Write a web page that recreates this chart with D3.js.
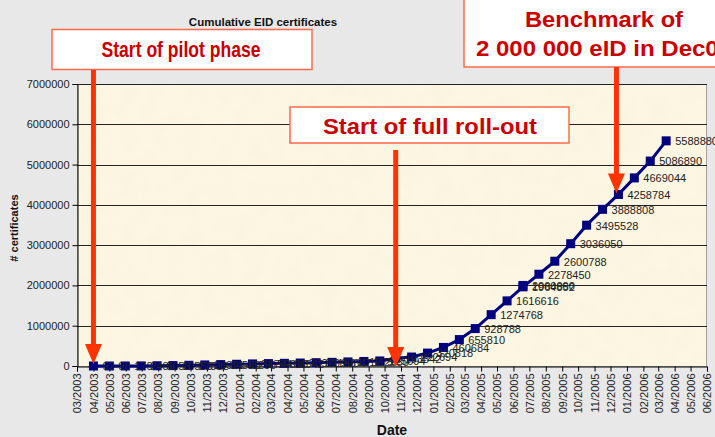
<!DOCTYPE html>
<html>
<head>
<meta charset="utf-8">
<title>Cumulative EID certificates</title>
<script src="https://d3js.org/d3.v7.min.js"></script>
<style>
  body { margin: 0; background: #e8e8e8; }
  text { font-family: Arial, "Liberation Sans", sans-serif; }
</style>
</head>
<body>
<svg id="chart" width="715" height="437"></svg>
<script>
// data: one point every 30 days, cumulative number of certificates
var dates = ["2003-04-01","2003-05-01","2003-05-31","2003-06-30","2003-07-30","2003-08-29",
  "2003-09-28","2003-10-28","2003-11-27","2003-12-27","2004-01-26","2004-02-25","2004-03-26",
  "2004-04-25","2004-05-25","2004-06-24","2004-07-24","2004-08-23","2004-09-22","2004-10-22",
  "2004-11-21","2004-12-21","2005-01-20","2005-02-19","2005-03-21","2005-04-20","2005-05-20",
  "2005-06-19","2005-07-19","2005-08-18","2005-09-17","2005-10-17","2005-11-16","2005-12-16",
  "2006-01-15","2006-02-14","2006-03-16"]
var certificates = [92, 98, 170, 2486, 6053, 10553, 17512, 26021, 34580, 43296, 51744, 59810,
  66542, 73920, 82156, 90347, 101275, 112680, 125094, 193542, 222694, 320818, 460684, 655810,
  928788, 1274768, 1616616, 1964852, 2278450, 2600788, 3036050, 3495528, 3888808, 4258784,
  4669044, 5086890, 5588880]
var benchDates = ["2005-06-19"]
var benchValues = [2000000]
var yTicks = [0, 1000000, 2000000, 3000000, 4000000, 5000000, 6000000, 7000000]
var axisStart = "2003-03-01", axisEnd = "2006-06-01"

var parse = d3.timeParse("%Y-%m-%d")
var data = dates.map(function(d, i) { return {date: parse(d), value: certificates[i]} })
var bench = benchDates.map(function(d, i) { return {date: parse(d), value: benchValues[i]} })

var svg = d3.select("#chart")
var plot = {left: 77, right: 707, top: 84, bottom: 366}

var x = d3.scaleTime().domain([parse(axisStart), parse(axisEnd)]).range([plot.left, plot.right])
var y = d3.scaleLinear().domain([0, 7000000]).range([plot.bottom, plot.top])

// plot background with a light paper texture
var defs = svg.append("defs")
var f = defs.append("filter").attr("id", "paper").attr("x", 0).attr("y", 0).attr("width", 1).attr("height", 1)
f.append("feTurbulence").attr("type", "fractalNoise").attr("baseFrequency", 0.06).attr("numOctaves", 2).attr("seed", 3)
f.append("feColorMatrix").attr("type", "matrix")
  .attr("values", "0 0 0 0 0.93  0 0 0 0 0.86  0 0 0 0 0.70  0 0 0 -1.6 1.0")
f.append("feComposite").attr("in2", "SourceGraphic").attr("operator", "in")

svg.append("rect")
  .attr("x", plot.left).attr("y", plot.top)
  .attr("width", plot.right - plot.left).attr("height", plot.bottom - plot.top)
  .attr("fill", "#fdf6e2")
svg.append("rect")
  .attr("x", plot.left).attr("y", plot.top)
  .attr("width", plot.right - plot.left).attr("height", plot.bottom - plot.top)
  .attr("fill", "#fff").attr("opacity", 0.35).attr("filter", "url(#paper)")
svg.append("rect")
  .attr("x", plot.left + 0.5).attr("y", plot.top + 0.5)
  .attr("width", plot.right - plot.left - 1).attr("height", plot.bottom - plot.top)
  .attr("fill", "none").attr("stroke", "#a0a0a0")

// gridlines
svg.append("g").selectAll("line").data(yTicks.slice(1)).enter().append("line")
  .attr("x1", plot.left).attr("x2", plot.right)
  .attr("y1", function(d) { return Math.round(y(d)) + 0.5 })
  .attr("y2", function(d) { return Math.round(y(d)) + 0.5 })
  .attr("stroke", "#222").attr("stroke-width", 1)

// axes
var yAxis = svg.append("g")
  .attr("transform", "translate(" + (plot.left + 0.5) + ",0)")
  .call(d3.axisLeft(y).tickValues(yTicks).tickFormat(d3.format("d")).tickSize(5).tickPadding(3))
yAxis.selectAll("text").attr("font-size", 11).attr("fill", "#222").style("font-family", "Arial, 'Liberation Sans', sans-serif")

var xAxis = svg.append("g")
  .attr("transform", "translate(0," + (plot.bottom + 0.5) + ")")
  .call(d3.axisBottom(x).ticks(d3.timeMonth.every(1)).tickFormat(d3.timeFormat("%m/%Y")).tickSize(5))
xAxis.selectAll("text")
  .attr("font-size", 11).attr("fill", "#222").style("font-family", "Arial, 'Liberation Sans', sans-serif")
  .attr("transform", "rotate(-90)")
  .attr("text-anchor", "end")
  .attr("x", -7).attr("y", 0).attr("dy", "0.35em")
svg.selectAll(".domain").attr("stroke", "#000")
svg.selectAll(".tick line").attr("stroke", "#000")

// titles
svg.append("text").attr("x", 263).attr("y", 26).attr("text-anchor", "middle")
  .attr("font-size", 11.5).attr("font-weight", "bold").attr("fill", "#111").text("Cumulative EID certificates")
svg.append("text").attr("transform", "translate(18,228) rotate(-90)").attr("text-anchor", "middle")
  .attr("font-size", 11).attr("font-weight", "bold").attr("fill", "#111").text("# certificates")
svg.append("text").attr("x", 392).attr("y", 435).attr("text-anchor", "middle")
  .attr("font-size", 14).attr("font-weight", "bold").attr("fill", "#111").text("Date")

// series
var line = d3.line().x(function(d) { return x(d.date) }).y(function(d) { return y(d.value) })
svg.append("path").datum(data)
  .attr("fill", "none").attr("stroke", "#000080").attr("stroke-width", 3)
  .attr("stroke-linejoin", "round").attr("d", line)

var pts = data.concat(bench)
svg.append("g").selectAll("rect").data(pts).enter().append("rect")
  .attr("x", function(d) { return x(d.date) - 4.5 })
  .attr("y", function(d) { return y(d.value) - 4.5 })
  .attr("width", 9).attr("height", 9).attr("fill", "#000080")

svg.append("g").selectAll("text").data(pts).enter().append("text")
  .attr("x", function(d) { return x(d.date) + 9 })
  .attr("y", function(d) { return y(d.value) })
  .attr("dy", "0.4em")
  .attr("font-size", 11).attr("fill", "#222")
  .text(function(d) { return d.value })

// annotations
function arrow(cx, yTop, yTip) {
  svg.append("rect").attr("x", cx - 2.5).attr("y", yTop).attr("width", 5).attr("height", yTip - 19 - yTop)
    .attr("fill", "#ff3300")
  svg.append("path")
    .attr("d", "M" + (cx - 8.5) + "," + (yTip - 20) + "L" + (cx + 8.5) + "," + (yTip - 20) + "L" + cx + "," + yTip + "Z")
    .attr("fill", "#ff3300")
}
function box(x0, y0, w, h, lines) {
  svg.append("rect").attr("x", x0).attr("y", y0).attr("width", w).attr("height", h)
    .attr("fill", "#fff").attr("stroke", "#ff6a48").attr("stroke-width", 1.5)
  lines.forEach(function(l) {
    svg.append("text").attr("x", l.x).attr("y", l.y).attr("text-anchor", "middle")
      .attr("font-size", 22).attr("font-weight", "bold").attr("fill", "#cc0000")
      .attr("textLength", l.w).attr("lengthAdjust", "spacingAndGlyphs")
      .text(l.t)
  })
}

var pilot = data[0], rollout = data[19], benchmark = data[33]

box(52, 29.5, 260, 40, [{t: "Start of pilot phase", x: 181, y: 57, w: 159}])
arrow(x(pilot.date), 70, y(pilot.value) - 2)

box(290, 107, 279, 36, [{t: "Start of full roll-out", x: 430, y: 134, w: 214}])
arrow(x(rollout.date), 150, y(0) + 1)

box(464, -2, 280, 69, [{t: "Benchmark of", x: 604, y: 27, w: 158}, {t: "2 000 000 eID in Dec05", x: 604, y: 56, w: 256}])
arrow(x(benchmark.date) - 2, 67, y(benchmark.value) - 1)
</script>
</body>
</html>
